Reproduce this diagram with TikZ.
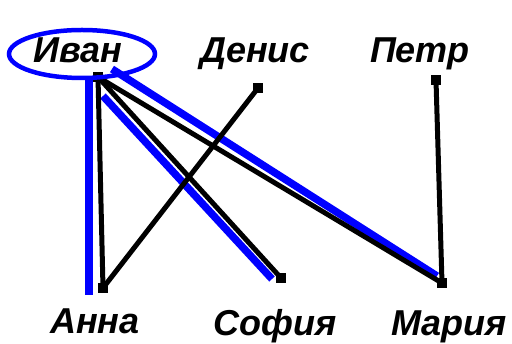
\documentclass[tikz,border=0pt]{standalone}
\usepackage{fontspec}
\setmainfont{Liberation Sans}
\begin{document}
\begin{tikzpicture}[x=1pt,y=-1pt,
  lbl/.style={anchor=base,inner sep=0pt,font=\fontsize{36}{36}\selectfont\bfseries\itshape},
  pt/.style={fill=black,inner sep=0pt,minimum size=10pt},
  edge/.style={line width=5pt,black},
  hl/.style={line width=7.5pt,blue}]
\useasboundingbox (0,0) rectangle (512,344);
% points
\coordinate (iv) at (98,77);
\coordinate (de) at (258,88);
\coordinate (pe) at (436,80);
\coordinate (an) at (103,288);
\coordinate (so) at (281,278);
\coordinate (ma) at (442,283);
% highlight ends
\coordinate (h1a) at (89,76);
\coordinate (h1b) at (89,295);
\coordinate (h2a) at (103,96);
\coordinate (h2b) at (272,279);
\coordinate (h3a) at (112,69);
\coordinate (h3b) at (437,276);
% blue highlights
\draw[hl] (h1a) -- (h1b);
\draw[hl] (h2a) -- (h2b);
\draw[hl] (h3a) -- (h3b);
% edges
\draw[edge] (iv) -- (an);
\draw[edge] (iv) -- (so);
\draw[edge] (iv) -- (ma);
\draw[edge] (de) -- (an);
\draw[edge] (pe) -- (ma);
% point squares
\foreach \p in {iv,de,pe,an,so,ma} \node[pt] at (\p) {};
% ellipse
\draw[blue,line width=4.5pt] (82,54) ellipse [x radius=73,y radius=24];
% labels
\node[lbl] (tiv) at (78,63) {Иван};
\node[lbl] (tde) at (255,63) {Денис};
\node[lbl] (tpe) at (420,63) {Петр};
\node[lbl] (tan) at (95,334) {Анна};
\node[lbl] (tso) at (275,336) {София};
\node[lbl] (tma) at (449,336) {Мария};
\end{tikzpicture}
\end{document}
